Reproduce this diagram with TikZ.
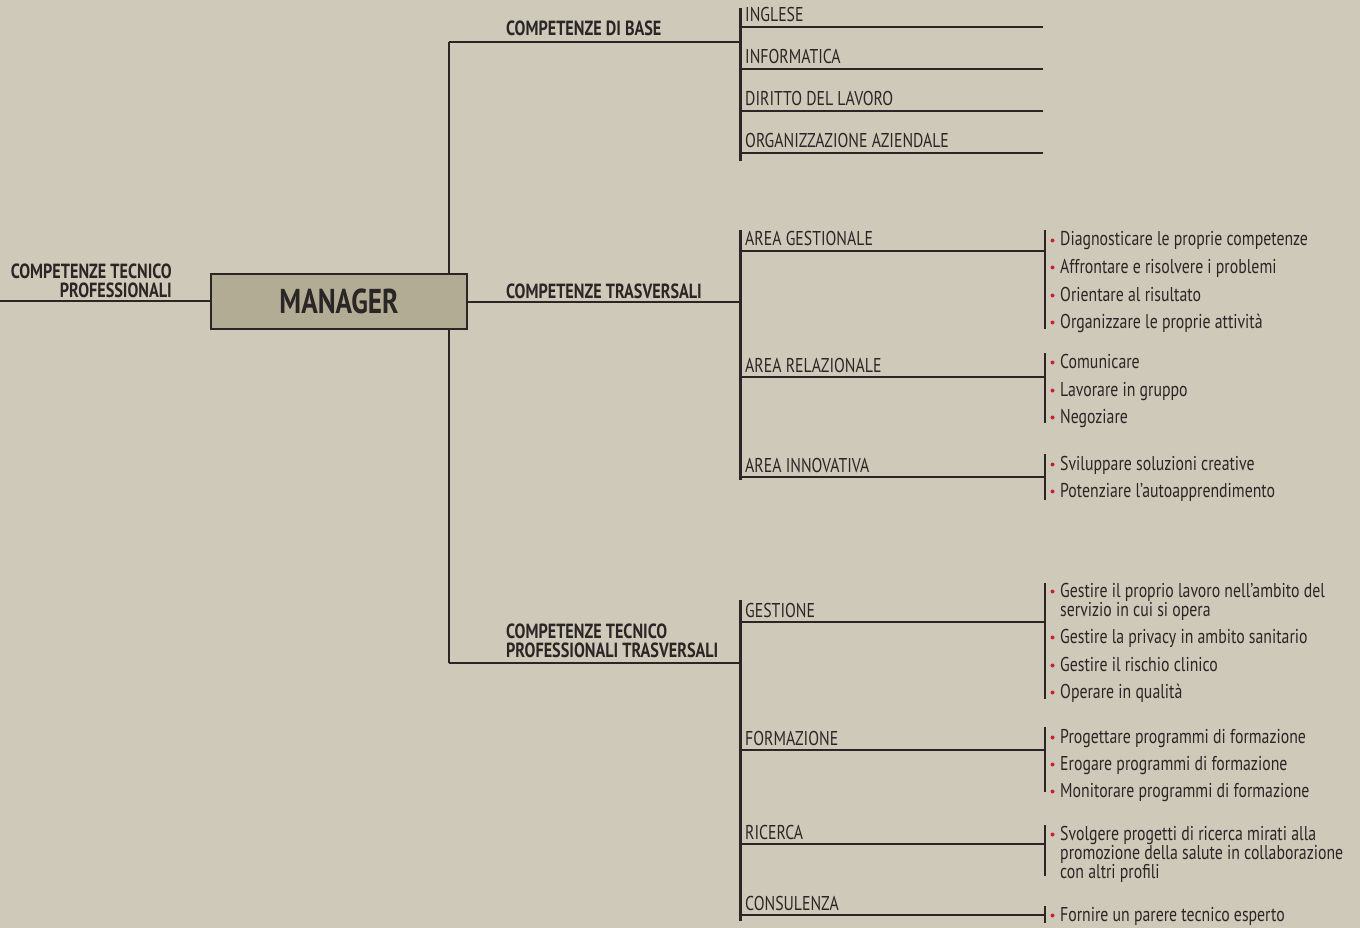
\documentclass[tikz,border=0pt]{standalone}
\usepackage{fontspec}
\setmainfont{PT Sans}[FakeStretch=0.79]
\definecolor{bg}{HTML}{CFC9B9}
\definecolor{boxc}{HTML}{B3AC94}
\definecolor{ink}{HTML}{2A2626}
\definecolor{dotred}{HTML}{C8202E}
\begin{document}
\begin{tikzpicture}[x=1pt,y=-1pt,
  thin line/.style={draw=ink,line width=1.3pt},
  bar/.style={draw=ink,line width=3pt},
  lab/.style={anchor=base west,inner sep=0pt,text=ink,font=\fontsize{20}{19}\selectfont},
  blab/.style={anchor=base west,inner sep=0pt,text=ink,font=\fontsize{20.5}{19}\selectfont\bfseries,align=left},
  item/.style={anchor=base west,inner sep=0pt,text=ink,font=\fontsize{20}{19}\selectfont,align=left},
  dot/.style={circle,fill=dotred,inner sep=0pt,minimum size=4pt}]
\fill[bg] (0,0) rectangle (1360,928);
\useasboundingbox (0,0) rectangle (1360,928);

% trunk
\coordinate (t1) at (449,42);
\coordinate (t2) at (449,663);
\coordinate (lft) at (0,301);
\draw[thin line] (t1) -- (t2);
\coordinate (b1) at (740,42);
\coordinate (b2) at (740,302);
\coordinate (b3) at (740,663);
\draw[thin line] (t1) -- (b1);
\draw[thin line] (t2) -- (b3);

% manager box
\node[draw=ink,line width=1.3pt,fill=boxc,minimum width=256pt,minimum height=55pt,inner sep=0pt,
  font=\fontsize{34.5}{36}\selectfont\bfseries,text=ink] (mgr) at (339,301.5) {MANAGER};
\draw[thin line] (lft) -- (mgr.west |- lft);
\draw[thin line] (mgr.east |- b2) -- (b2);
\node[anchor=base east,inner sep=0pt,text=ink,font=\fontsize{20.5}{19}\selectfont\bfseries,align=right] (ctp) at (172,297) {COMPETENZE TECNICO\\PROFESSIONALI};

% section labels
\node[blab] (cb) at (506,36) {COMPETENZE DI BASE};
\node[blab] (ct) at (506,298) {COMPETENZE TRASVERSALI};
\node[blab] (ctt) at (506,657) {COMPETENZE TECNICO\\PROFESSIONALI TRASVERSALI};

% vertical bars
\coordinate (v1a) at (740,8);  \coordinate (v1b) at (740,161);
\coordinate (v2a) at (740,230); \coordinate (v2b) at (740,480);
\coordinate (v3a) at (740,600); \coordinate (v3b) at (740,921);
\draw[bar] (v1a) -- (v1b);
\draw[bar] (v2a) -- (v2b);
\draw[bar] (v3a) -- (v3b);

% base items
\foreach \n/\y/\t in {ing/27/INGLESE,inf/69/INFORMATICA,dir/111/DIRITTO DEL LAVORO,org/153/ORGANIZZAZIONE AZIENDALE}{
  \coordinate (\n s) at (740,\y);
  \coordinate (\n e) at (1043,\y);
  \draw[thin line] (\n s) -- (\n e);
  \node[lab] (\n) at (745,\y-5) {\t};
}

% areas with sublists
\foreach \n/\y/\t in {ag/251/AREA GESTIONALE,ar/377/AREA RELAZIONALE,ai/477/AREA INNOVATIVA,ge/622/GESTIONE,fo/750/FORMAZIONE,ri/844/RICERCA,co/915/CONSULENZA}{
  \coordinate (\n s) at (740,\y);
  \coordinate (\n e) at (1045,\y);
  \draw[thin line] (\n s) -- (\n e);
  \node[lab] (\n) at (745,\y-5) {\t};
}

% item bars
\foreach \n/\a/\b in {ag/230/329,ar/353/423,ai/454/500,ge/583/699,fo/727/792,ri/825/876,co/906/923}{
  \coordinate (\n ba) at (1045,\a);
  \coordinate (\n bb) at (1045,\b);
  \draw[line width=2.2pt,draw=ink] (\n ba) -- (\n bb);
}

% items
\foreach \n/\y/\t in {
  i1/246/Diagnosticare le proprie competenze,
  i2/273/Affrontare e risolvere i problemi,
  i3/301/Orientare al risultato,
  i4/328/Organizzare le proprie attività,
  i5/368/Comunicare,
  i6/396/Lavorare in gruppo,
  i7/423/Negoziare,
  i8/470/Sviluppare soluzioni creative,
  i9/497/Potenziare l’autoapprendimento,
  i11/643/Gestire la privacy in ambito sanitario,
  i12/671/Gestire il rischio clinico,
  i13/698/Operare in qualità,
  i14/743/Progettare programmi di formazione,
  i15/770/Erogare programmi di formazione,
  i16/797/Monitorare programmi di formazione,
  i18/921/Fornire un parere tecnico esperto}{
  \node[item] (\n) at (1060,\y) {\t};
  \node[dot] (\n d) at (1052.5,\y-5.5) {};
}
\node[item] (i10) at (1060,616) {Gestire il proprio lavoro nell’ambito del\\servizio in cui si opera};
\node[dot] (i10d) at (1052.5,591.5) {};
\node[item] (i17) at (1060,878) {Svolgere progetti di ricerca mirati alla\\promozione della salute in collaborazione\\con altri profili};
\node[dot] (i17d) at (1052.5,834.5) {};
\end{tikzpicture}
\end{document}
